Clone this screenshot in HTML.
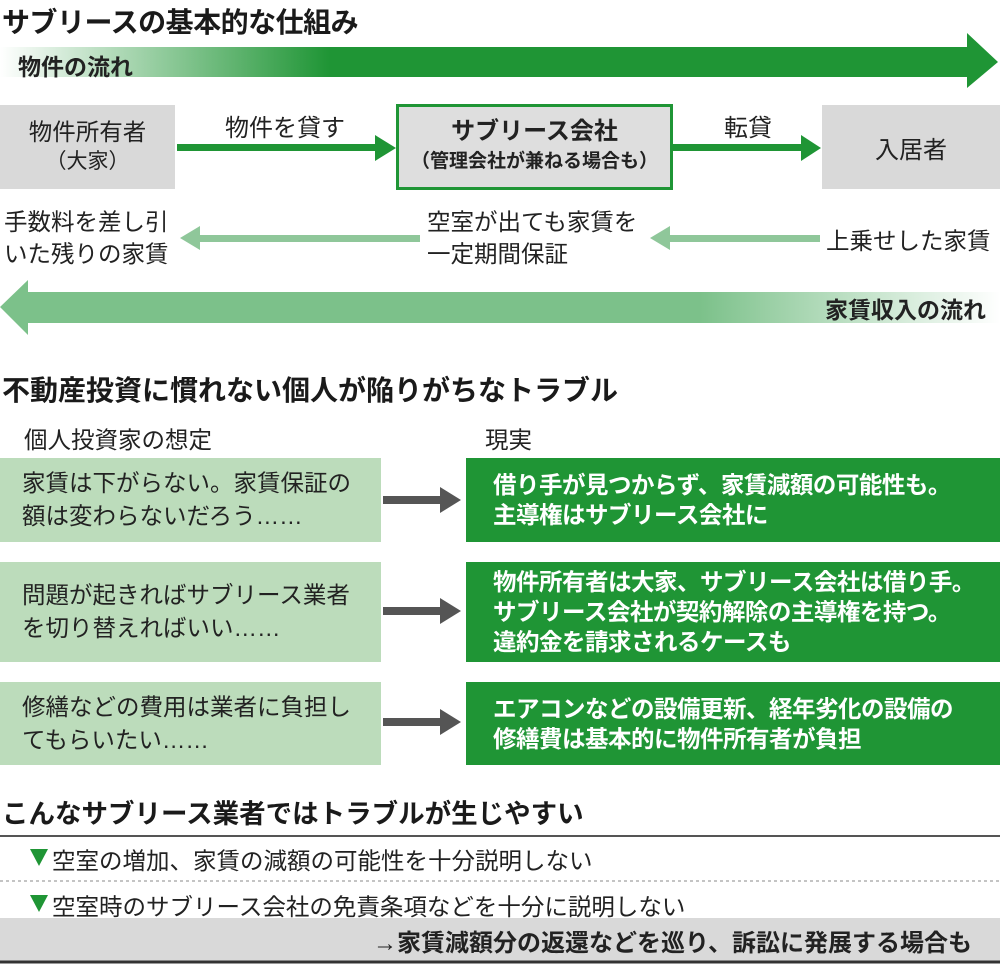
<!DOCTYPE html>
<html><head><meta charset="utf-8"><style>
*{margin:0;padding:0;box-sizing:border-box}
body{width:1000px;height:964px;background:#fff;position:relative;overflow:hidden;font-family:"Liberation Sans","Noto Sans CJK JP",sans-serif;color:#222}
.a{position:absolute;white-space:nowrap}
.h{font-weight:bold;font-size:28px;color:#1a1a1a}
.box{position:absolute;display:flex;align-items:center;justify-content:center;text-align:center;flex-direction:column}
.lg{position:absolute;left:0;width:381px;background:#bcdcbb;font-size:23.5px;line-height:33px;padding-left:22px;display:flex;flex-direction:column;justify-content:center;white-space:nowrap}
.dg{position:absolute;left:466px;width:534px;background:#1f9535;color:#fff;font-weight:bold;font-size:23.5px;line-height:30px;padding-left:27px;display:flex;flex-direction:column;justify-content:center;white-space:nowrap;letter-spacing:-0.5px}
</style></head><body>
<svg width="1000" height="964" style="position:absolute;left:0;top:0">
<defs>
<linearGradient id="g1" x1="0" x2="1"><stop offset="0" stop-color="#fff"/><stop offset="0.33" stop-color="#1f9535"/><stop offset="1" stop-color="#1f9535"/></linearGradient>
<linearGradient id="g2" x1="0" x2="1"><stop offset="0" stop-color="#7cc18a"/><stop offset="0.7" stop-color="#7cc18a"/><stop offset="1" stop-color="#fff"/></linearGradient>
</defs>
<polygon points="0,47 967,47 967,33 998,62 967,88 967,77 0,77" fill="url(#g1)"/>
<polygon points="1000,292 28,292 28,280 0,307 28,335 28,323 1000,323" fill="url(#g2)"/>
<rect x="177" y="144" width="200" height="7" fill="#1f9535"/>
<polygon points="375,135 396,148 375,161" fill="#1f9535"/>
<rect x="673" y="144" width="130" height="7" fill="#1f9535"/>
<polygon points="801,135 821,148 801,161" fill="#1f9535"/>
<rect x="198" y="235" width="222" height="7" fill="#8fc79a"/>
<polygon points="200,226 180,238 200,250" fill="#8fc79a"/>
<rect x="668" y="235" width="152" height="7" fill="#8fc79a"/>
<polygon points="670,226 650,238 670,250" fill="#8fc79a"/>
<g fill="#555">
<rect x="383" y="496" width="58" height="8"/><polygon points="440,487 461,500 440,513"/>
<rect x="383" y="607" width="58" height="8"/><polygon points="440,598 461,611 440,624"/>
<rect x="383" y="718" width="58" height="8"/><polygon points="440,709 461,722 440,735"/>
</g>
<line x1="0" y1="836" x2="1000" y2="836" stroke="#555" stroke-width="2"/>
<line x1="0" y1="881" x2="1000" y2="881" stroke="#888" stroke-width="1" stroke-dasharray="3,3"/>
<rect x="0" y="918" width="1000" height="43" fill="#d9d9d9"/>
<line x1="0" y1="962" x2="1000" y2="962" stroke="#333" stroke-width="3"/>
<polygon points="30,849 48,849 39,866" fill="#1f9535"/>
<polygon points="30,895 48,895 39,912" fill="#1f9535"/>
</svg>
<div class="a h" style="left:2px;top:1px;letter-spacing:-0.5px">サブリースの基本的な仕組み</div>
<div class="a" style="left:18px;top:48px;font-size:23px;font-weight:bold;color:#222">物件の流れ</div>
<div class="box" style="left:0;top:105px;width:175px;height:84px;background:#d9d9d9;font-size:23.5px;line-height:30px">物件所有者<span style="font-size:21px">（大家）</span></div>
<div class="box" style="left:396px;top:104px;width:277px;height:86px;background:#dedede;border:3px solid #1f9535;font-weight:bold;font-size:24px;line-height:30px">サブリース会社<span style="font-size:19px">（管理会社が兼ねる場合も）</span></div>
<div class="box" style="left:822px;top:105px;width:178px;height:84px;background:#d9d9d9;font-size:24px">入居者</div>
<div class="a" style="left:225px;top:108px;font-size:24px">物件を貸す</div>
<div class="a" style="left:724px;top:108px;font-size:24px">転貸</div>
<div class="a" style="left:4px;top:206px;font-size:23.5px;line-height:32px">手数料を差し引<br>いた残りの家賃</div>
<div class="a" style="left:427px;top:206px;font-size:23.5px;line-height:32px">空室が出ても家賃を<br>一定期間保証</div>
<div class="a" style="left:826px;top:222px;font-size:23.5px">上乗せした家賃</div>
<div class="a" style="right:14px;top:291px;font-size:23px;font-weight:bold">家賃収入の流れ</div>
<div class="a h" style="left:2px;top:369px">不動産投資に慣れない個人が陥りがちなトラブル</div>
<div class="a" style="left:24px;top:421px;font-size:23.5px">個人投資家の想定</div>
<div class="a" style="left:485px;top:421px;font-size:23.5px">現実</div>
<div class="lg" style="top:458px;height:84px">家賃は下がらない。家賃保証の<br>額は変わらないだろう……</div>
<div class="lg" style="top:562px;height:100px">問題が起きればサブリース業者<br>を切り替えればいい……</div>
<div class="lg" style="top:682px;height:83px">修繕などの費用は業者に負担し<br>てもらいたい……</div>
<div class="dg" style="top:458px;height:84px">借り手が見つからず、家賃減額の可能性も。<br>主導権はサブリース会社に</div>
<div class="dg" style="top:562px;height:100px">物件所有者は大家、サブリース会社は借り手。<br>サブリース会社が契約解除の主導権を持つ。<br>違約金を請求されるケースも</div>
<div class="dg" style="top:682px;height:83px">エアコンなどの設備更新、経年劣化の設備の<br>修繕費は基本的に物件所有者が負担</div>
<div class="a h" style="left:2px;top:792px;font-size:26.5px">こんなサブリース業者ではトラブルが生じやすい</div>
<div class="a" style="left:52px;top:842px;font-size:23.5px">空室の増加、家賃の減額の可能性を十分説明しない</div>
<div class="a" style="left:52px;top:888px;font-size:23.5px">空室時のサブリース会社の免責条項などを十分に説明しない</div>
<div class="a" style="right:28px;top:923px;font-size:24px;font-weight:bold">→家賃減額分の返還などを巡り、訴訟に発展する場合も</div>
</body></html>
